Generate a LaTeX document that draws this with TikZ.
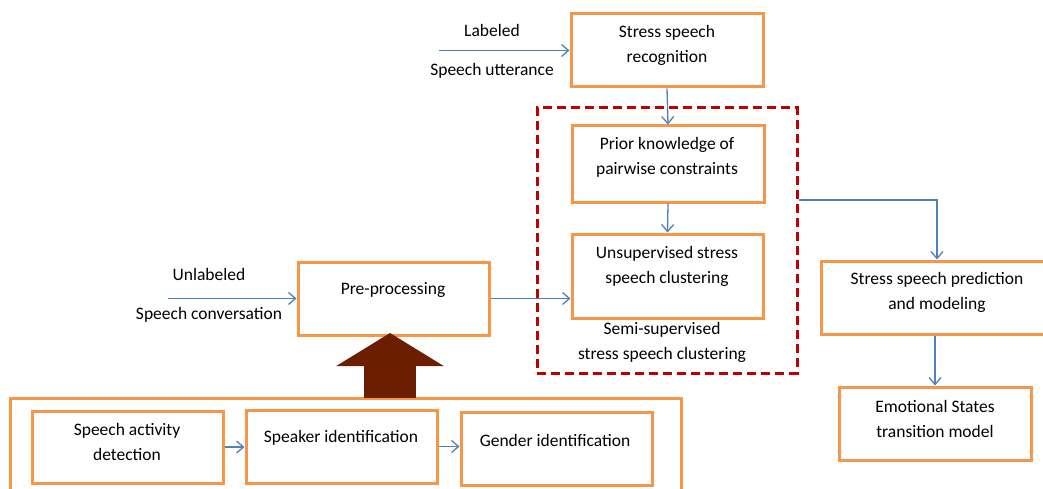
\documentclass[tikz,border=0pt]{standalone}
\usepackage{fontspec}
\setmainfont{Carlito}
\usetikzlibrary{arrows.meta}
\definecolor{boxorange}{HTML}{F79646}
\definecolor{linkblue}{HTML}{4F81BD}
\definecolor{groupred}{HTML}{C00000}
\definecolor{pushbrown}{HTML}{6B1F00}
\tikzset{
  box/.style={rectangle, draw=boxorange, line width=3pt, fill=white, inner sep=0pt},
  txt/.style={inner sep=0pt, align=center, font=\fontsize{17.5}{25}\selectfont},
  conn/.style={draw=linkblue, line width=1.3pt, -{Straight Barb[length=7pt,width=12pt]}},
  group/.style={rectangle, draw=groupred, line width=3pt, dash pattern=on 9pt off 5pt, inner sep=0pt},
  bigarrow/.style={draw=pushbrown, fill=pushbrown, line width=52pt,
    -{Triangle[length=33pt,width=106pt]}}
}
\begin{document}
\begin{tikzpicture}[x=1pt,y=-1pt]
\useasboundingbox (0,0) rectangle (1043,489);
\clip (0,0) rectangle (1043,489);
\fill[white] (0,0) rectangle (1043,489);

% semi-supervised group
\node[group, minimum width=260pt, minimum height=265pt] (rbox) at (667,240.5) {};

% boxes
\node[box, minimum width=192pt, minimum height=73pt] (ssr) at (667,50.5) {};
\node[box, minimum width=192pt, minimum height=76pt] (prior) at (668,164) {};
\node[box, minimum width=191pt, minimum height=84pt] (uns) at (667.5,276) {};
\node[box, minimum width=232pt, minimum height=73pt] (pred) at (937,297.5) {};
\node[box, minimum width=192pt, minimum height=73pt] (emo) at (935,423.5) {};
\node[box, minimum width=191pt, minimum height=73pt] (pre) at (393.5,298.5) {};
\node[box, minimum width=671pt, minimum height=112pt] (outer) at (345.5,454) {};
\node[box, minimum width=191pt, minimum height=72pt] (sad) at (127.5,447) {};
\node[box, minimum width=191pt, minimum height=73pt] (spk) at (341.5,446.5) {};
\node[box, minimum width=191pt, minimum height=73pt] (gen) at (556.5,448.5) {};

% box texts
\node[txt] (ssr-t) at (667,45.5) {Stress speech\\recognition};
\node[txt] (prior-t) at (667,157.5) {Prior knowledge of\\pairwise constraints};
\node[txt] (uns-t) at (667,266.5) {Unsupervised stress\\speech clustering};
\node[txt] (semi-t) at (662,342.5) {Semi-supervised\\stress speech clustering};
\node[txt] (pred-t) at (937,292.5) {Stress speech prediction\\and modeling};
\node[txt] (emo-t) at (935,418.5) {Emotional States\\transition model};
\node[txt] (pre-t) at (393,290) {Pre-processing};
\node[txt] (sad-t) at (127,442) {Speech activity\\detection};
\node[txt] (spk-t) at (341,438) {Speaker identification};
\node[txt] (gen-t) at (555,440) {Gender identification};

% input labels
\node[txt] (lab-t) at (492,30) {Labeled};
\node[txt] (utt-t) at (492,71) {Speech utterance};
\node[txt] (unl-t) at (209,274) {Unlabeled};
\node[txt] (conv-t) at (209,315) {Speech conversation};

% connector ends
\coordinate (lab-in) at (439,50.5);
\coordinate (unl-in) at (168,298.5);
\coordinate (rb-out) at (rbox.east |- 0,200);
\coordinate (ba-s) at (390,398);
\coordinate (ba-t) at (390,333);

% connectors
\draw[conn] (lab-in) -- (ssr.west);
\draw[conn] (ssr.south) -- (prior.north);
\draw[conn] (prior.south) -- (uns.north);
\draw[conn] (unl-in) -- (pre.west);
\draw[conn] (pre.east) -- (pre.east -| uns.west);
\draw[conn] (rb-out) -| (pred.north);
\draw[conn] (pred.south -| emo.north) -- (emo.north);
\draw[conn] (sad.east) -- (sad.east -| spk.west);
\draw[conn] (spk.east) -- (spk.east -| gen.west);

% block arrow feeding the pre-processing stage
\draw[bigarrow] (ba-s) -- (ba-t);
\end{tikzpicture}
\end{document}
